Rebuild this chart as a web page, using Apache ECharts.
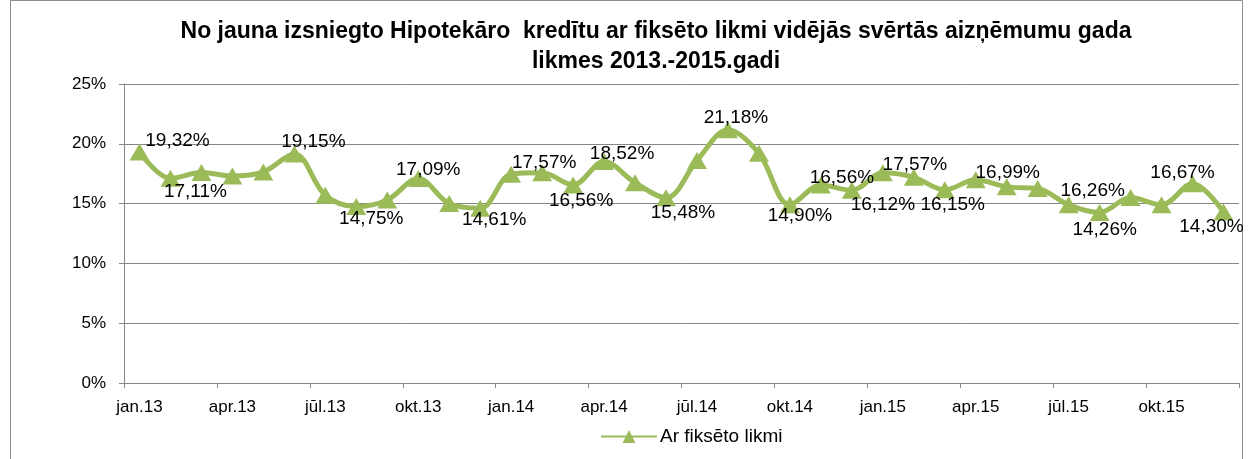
<!DOCTYPE html>
<html>
<head>
<meta charset="utf-8">
<script src="https://cdn.jsdelivr.net/npm/echarts@6/dist/echarts.min.js"></script>
<style>
html,body{margin:0;padding:0;background:#fff;}
#chart{width:1248px;height:459px;}
</style>
</head>
<body>
<div id="chart"></div>
<script>
const categories = ['jan.13','feb.13','mar.13','apr.13','mai.13','jūn.13','jūl.13','aug.13','sep.13','okt.13','nov.13','dec.13',
  'jan.14','feb.14','mar.14','apr.14','mai.14','jūn.14','jūl.14','aug.14','sep.14','okt.14','nov.14','dec.14',
  'jan.15','feb.15','mar.15','apr.15','mai.15','jūn.15','jūl.15','aug.15','sep.15','okt.15','nov.15','dec.15'];
const values = [19.32, 17.11, 17.6, 17.3, 17.65, 19.15, 15.7, 14.75, 15.3, 17.09, 15.0, 14.61,
  17.45, 17.57, 16.56, 18.52, 16.75, 15.48, 18.6, 21.18, 19.2, 14.90, 16.56, 16.12,
  17.57, 17.2, 16.15, 16.99, 16.4, 16.26, 14.9, 14.26, 15.5, 14.9, 16.67, 14.30];
const yTicks = [0, 5, 10, 15, 20, 25];
const seriesName = 'Ar fiksēto likmi';
const titleText = 'No jauna izsniegto Hipotekāro  kredītu ar fiksēto likmi vidējās svērtās aizņēmumu gada\nlikmes 2013.-2015.gadi';

// label placement (style): index -> [dx, dy] offset from point
const labelOffsets = {
  0:[38,-11], 1:[25,13], 5:[19,-12], 7:[15,12], 9:[10,-9], 11:[14,12], 13:[2,-10], 14:[8,16],
  15:[18,-8], 17:[17,15], 19:[8,-12], 21:[10,11], 22:[21,-7], 23:[31,15], 24:[32,-8], 26:[8,15],
  27:[32,-7], 29:[55,2], 31:[5,17], 34:[-10,-11], 35:[-12,15]
};

const fmt = v => v.toFixed(2).replace('.', ',') + '%';
const data = values.map((v, i) => {
  const o = labelOffsets[i];
  if (!o) return v;
  return { value: v, label: { show: true, position: 'inside', offset: o, formatter: () => fmt(v) } };
});

const FONT = "'Liberation Sans', Arial, sans-serif";
const chart = echarts.init(document.getElementById('chart'), null, {renderer:'canvas'});
chart.setOption({
  animation: false,
  backgroundColor: '#fff',
  title: {
    text: titleText,
    left: 651, textAlign: 'center', top: 12,
    textStyle: { fontFamily: FONT, fontWeight: 'bold', fontSize: 23, color: '#000', lineHeight: 30 }
  },
  graphic: [{
    type: 'rect', shape: { x: 10.5, y: 0.5, width: 1232, height: 470 },
    style: { fill: 'none', stroke: '#8c8c8c', lineWidth: 1 }, silent: true
  }],
  legend: {
    data: [seriesName], top: 427, left: 600,
    itemWidth: 56, itemHeight: 16, itemGap: 4, padding: 0,
    textStyle: { fontFamily: FONT, fontSize: 19, color: '#000', padding: [0, 0, 0, -2] }
  },
  grid: { left: 124, right: 9, top: 84, bottom: 76 },
  xAxis: {
    type: 'category', data: categories, boundaryGap: true,
    axisLine: { lineStyle: { color: '#868686', width: 1 } },
    axisTick: { show: true, interval: 2, length: 5, lineStyle: { color: '#868686' } },
    axisLabel: { interval: 2, color: '#000', fontFamily: FONT, fontSize: 17, margin: 16 }
  },
  yAxis: {
    type: 'value', min: yTicks[0], max: yTicks[yTicks.length - 1], interval: 5,
    axisLine: { show: true, lineStyle: { color: '#868686' } },
    axisTick: { show: true, length: 5, lineStyle: { color: '#868686' } },
    splitLine: { lineStyle: { color: '#868686', width: 1 } },
    axisLabel: { formatter: v => v + '%', color: '#000', fontFamily: FONT, fontSize: 17, margin: 18 }
  },
  series: [{
    name: seriesName, type: 'line', data: data, smooth: 0.35,
    lineStyle: { color: '#9BBB59', width: 5 },
    itemStyle: { color: '#9BBB59' },
    symbol: 'triangle', symbolSize: [20, 17],
    label: { show: false, color: '#000', fontFamily: FONT, fontSize: 19, align: 'center', verticalAlign: 'middle' },
    emphasis: { disabled: true }
  }]
});
</script>
</body>
</html>
